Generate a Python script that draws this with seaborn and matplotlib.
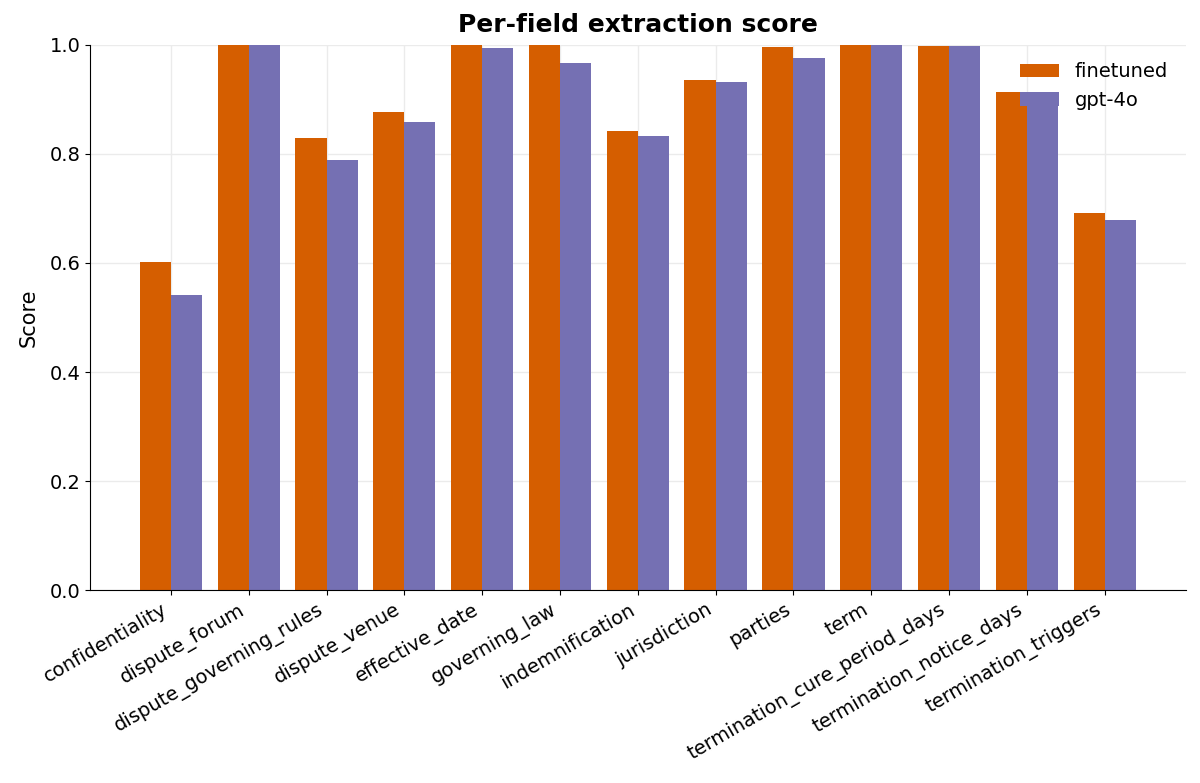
import pandas as pd
import matplotlib
matplotlib.use("Agg")
import matplotlib.pyplot as plt
import seaborn as sns

# Per-field scores
fields = ['confidentiality', 'dispute_forum', 'dispute_governing_rules', 'dispute_venue',
          'effective_date', 'governing_law', 'indemnification', 'jurisdiction', 'parties',
          'term', 'termination_cure_period_days', 'termination_notice_days',
          'termination_triggers']
finetuned = [0.602, 1.0, 0.829, 0.877, 1.0, 1.0, 0.842, 0.936, 0.996, 1.0, 0.998, 0.914, 0.692]
gpt4o = [0.541, 1.0, 0.789, 0.859, 0.994, 0.967, 0.833, 0.932, 0.976, 1.0, 0.998, 0.895, 0.679]

df = pd.DataFrame({
    'field': fields * 2,
    'score': finetuned + gpt4o,
    'model': ['finetuned'] * len(fields) + ['gpt-4o'] * len(fields),
})

sns.set_style('ticks', {'text.color': 'black', 'axes.labelcolor': 'black',
                        'xtick.color': 'black', 'ytick.color': 'black',
                        'axes.edgecolor': 'black'})
plt.rcParams['font.family'] = ['DejaVu Sans']

fig, ax = plt.subplots(figsize=(12, 7.83), dpi=100)
sns.barplot(data=df, x='field', y='score', hue='model', order=fields,
            palette={'finetuned': '#d55e00', 'gpt-4o': '#7570b3'},
            width=0.8, saturation=1, linewidth=0, ax=ax)

ax.set_xlim(-1.04, 13.04)
ax.set_ylim(0, 1.0)
ax.grid(True, color='#ebebeb', linewidth=1)
ax.set_axisbelow(True)
sns.despine(ax=ax)
ax.tick_params(labelsize=14)
plt.setp(ax.get_xticklabels(), rotation=30, ha='right')
ax.set_xlabel('')
ax.set_ylabel('Score', fontsize=15, labelpad=8)
ax.set_title('Per-field extraction score', fontsize=18, fontweight='bold', pad=9)
ax.legend(title=None, frameon=False, loc='upper right', fontsize=14)

fig.subplots_adjust(left=0.075, right=0.988, top=0.943, bottom=0.246)
fig.savefig('out.png', dpi=100)
